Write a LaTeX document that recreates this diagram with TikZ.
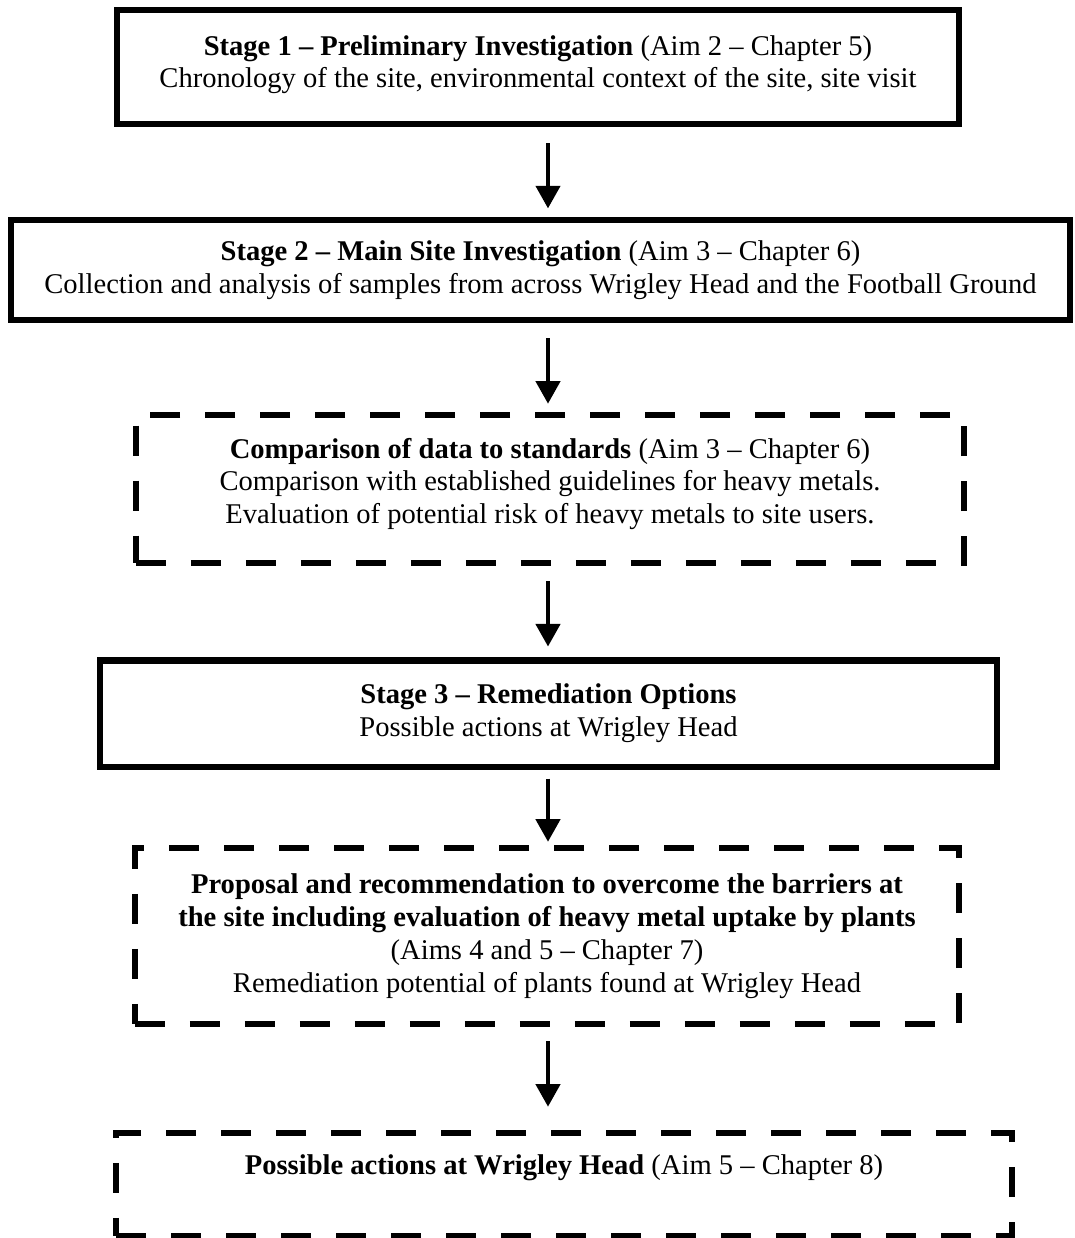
\documentclass[tikz,border=0pt]{standalone}
\usepackage{fontspec}
\setmainfont{Liberation Serif}
\usepackage{tikz}
\usetikzlibrary{arrows.meta}

\begin{document}
\begin{tikzpicture}[x=0.42pt,y=0.42pt,
  every node/.style={font=\fontsize{12}{13.8}\selectfont, align=center, inner sep=0pt},
  stagebox/.style={draw, rectangle, line width=2.9pt},
  dashbox/.style={draw, rectangle, line width=2.6pt, dash pattern=on 12.6pt off 10.5pt},
  flow/.style={line width=2pt, -{Triangle[length=9.5pt,width=10pt]}}]
\useasboundingbox (0,0) rectangle (1075,-1238);
\coordinate (col) at (548,0);
\node[stagebox, minimum width=353.6pt, minimum height=47.9pt, text depth=4.6pt] (stage1) at (538,-67)
  {\textbf{Stage 1 -- Preliminary Investigation} (Aim 2 -- Chapter 5)\\
   Chronology of the site, environmental context of the site, site visit};
\node[stagebox, minimum width=444.8pt, minimum height=42pt] (stage2) at (540.5,-270)
  {\textbf{Stage 2 -- Main Site Investigation} (Aim 3 -- Chapter 6)\\
   Collection and analysis of samples from across Wrigley Head and the Football Ground};
\node[dashbox, minimum width=347.8pt, minimum height=62.2pt, text depth=6.8pt] (compare) at (550,-489)
  {\textbf{Comparison of data to standards} (Aim 3 -- Chapter 6)\\
   Comparison with established guidelines for heavy metals.\\
   Evaluation of potential risk of heavy metals to site users.};
\node[stagebox, minimum width=376.7pt, minimum height=44.9pt] (stage3) at (548.5,-713.5)
  {\textbf{Stage 3 -- Remediation Options}\\
   Possible actions at Wrigley Head};
\node[dashbox, minimum width=346.1pt, minimum height=73.9pt] (proposal) at (547,-936)
  {\textbf{Proposal and recommendation to overcome the barriers at}\\
   \textbf{the site including evaluation of heavy metal uptake by plants}\\
   (Aims 4 and 5 -- Chapter 7)\\
   Remediation potential of plants found at Wrigley Head};
\node[dashbox, minimum width=376.3pt, minimum height=43.3pt, text depth=16.5pt] (actions) at (564,-1184.5)
  {\textbf{Possible actions at Wrigley Head} (Aim 5 -- Chapter 8)};
% arrows between the stages
\foreach \a/\b/\s/\e in {stage1/stage2/6.7/3.4, stage2/compare/6.3/3.4, compare/stage3/6.3/4.2,
  stage3/proposal/3.4/1.3, proposal/actions/5.9/9.7}{
\draw[flow, shorten <=\s pt, shorten >=\e pt] (col |- \a.south) -- (col |- \b.north);};
\end{tikzpicture}
\end{document}
